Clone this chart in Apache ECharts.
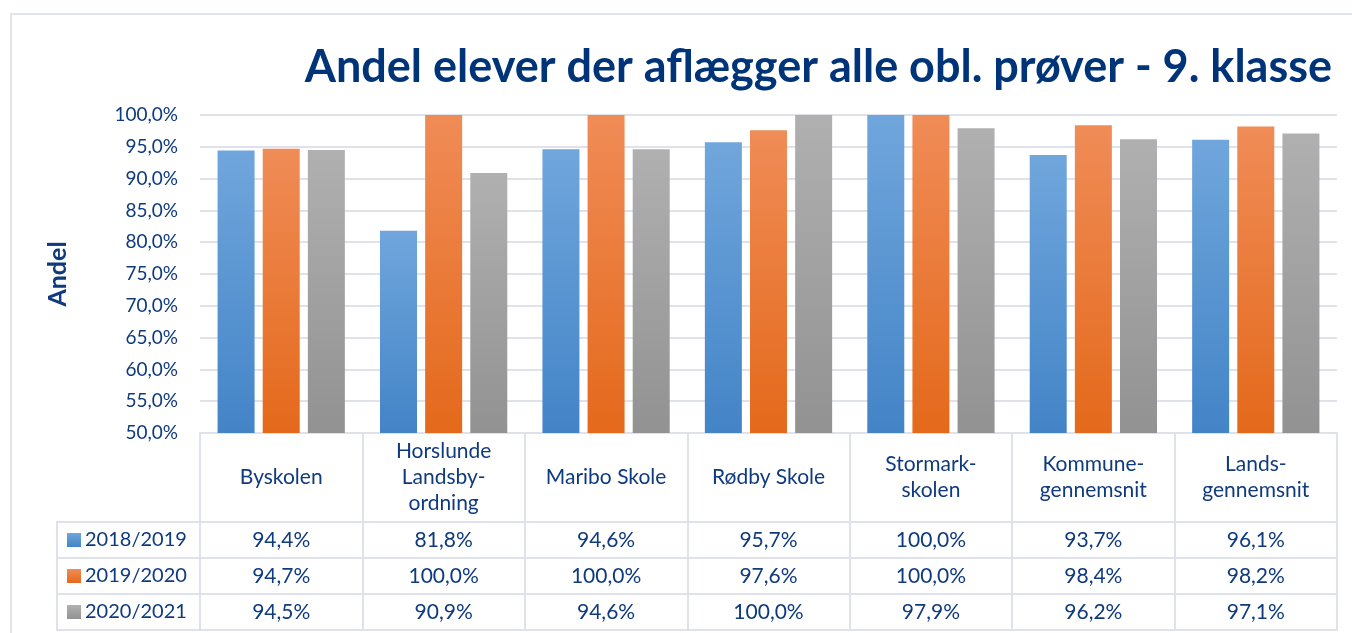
<!DOCTYPE html>
<html>
<head>
<meta charset="utf-8">
<script src="https://cdn.jsdelivr.net/npm/echarts@6/dist/echarts.min.js"></script>
<style>
  html, body { margin: 0; padding: 0; background: #fff; }
  #main { width: 1352px; height: 633px; }
</style>
</head>
<body>
<div id="main"></div>
<script>
var schools = ['Byskolen', 'Horslunde\nLandsby-\nordning', 'Maribo Skole', 'Rødby Skole',
    'Stormark-\nskolen', 'Kommune-\ngennemsnit', 'Lands-\ngennemsnit'];
var years = ['2018/2019', '2019/2020', '2020/2021'];
var y2019 = [94.4, 81.8, 94.6, 95.7, 100.0, 93.7, 96.1];
var y2020 = [94.7, 100.0, 100.0, 97.6, 100.0, 98.4, 98.2];
var y2021 = [94.5, 90.9, 94.6, 100.0, 97.9, 96.2, 97.1];

var navy = '#0f3a7e';
var lineCol = '#dfe2ea';
var font = 'Lato';

function pct(v) {
    return v.toFixed(1).replace('.', ',') + '%';
}
function grad(top, bottom) {
    return {
        type: 'linear', x: 0, y: 0, x2: 0, y2: 1,
        colorStops: [{offset: 0, color: top}, {offset: 1, color: bottom}]
    };
}

// one extra x axis per table row, labels are the row values
function rowAxis(offset, values) {
    return {
        type: 'category',
        data: schools,
        position: 'bottom',
        offset: offset,
        axisLine: {show: true, lineStyle: {color: lineCol, width: 2}},
        axisTick: {show: false},
        axisLabel: {
            show: !!values,
            interval: 0,
            margin: 18,
            verticalAlign: 'middle',
            fontFamily: font,
            fontSize: 21,
            color: navy,
            formatter: function (v, i) { return values ? pct(values[i]) : ''; }
        }
    };
}

var option = {
    animation: false,
    title: {
        text: 'Andel elever der aflægger alle obl. prøver - 9. klasse',
        right: 15,
        top: 40,
        textStyle: {fontFamily: font, fontWeight: 'bold', fontSize: 45, color: '#003478'}
    },
    legend: {
        data: years,
        orient: 'vertical',
        left: 67,
        top: 529,
        padding: 0,
        itemWidth: 14,
        itemHeight: 14,
        itemGap: 14,
        icon: 'rect',
        textStyle: {fontFamily: font, fontSize: 20, color: navy, lineHeight: 22, padding: [0, 0, 0, -1]},
        selectedMode: false
    },
    grid: {left: 200, right: 15, top: 115, bottom: 200, outerBoundsMode: 'none'},
    xAxis: [{
        type: 'category',
        data: schools,
        position: 'bottom',
        axisLine: {show: true, lineStyle: {color: lineCol, width: 2}},
        axisTick: {show: true, interval: 0, length: 197, lineStyle: {color: lineCol, width: 2}},
        axisLabel: {
            interval: 0,
            margin: 44,
            verticalAlign: 'middle',
            lineHeight: 26,
            fontFamily: font,
            fontSize: 21,
            color: navy
        }
    },
        rowAxis(89, y2019),
        rowAxis(125, y2020),
        rowAxis(161, y2021),
        rowAxis(197, null)
    ],
    yAxis: {
        type: 'value',
        min: 50,
        max: 100,
        interval: 5,
        name: 'Andel',
        nameLocation: 'middle',
        nameGap: 130,
        nameRotate: 90,
        nameTextStyle: {fontFamily: font, fontWeight: 'bold', fontSize: 25, color: navy},
        axisLine: {show: false},
        axisTick: {show: false},
        axisLabel: {
            margin: 22,
            fontFamily: font,
            fontSize: 19,
            color: navy,
            formatter: pct
        },
        splitLine: {lineStyle: {color: lineCol, width: 2}}
    },
    series: [{
        name: years[0],
        type: 'bar',
        barWidth: 37,
        barGap: '22%',
        itemStyle: {color: grad('#70a6dc', '#4384c7')},
        data: y2019
    }, {
        name: years[1],
        type: 'bar',
        barWidth: 37,
        barGap: '22%',
        itemStyle: {color: grad('#f08c57', '#e4691b')},
        data: y2020
    }, {
        name: years[2],
        type: 'bar',
        barWidth: 37,
        barGap: '22%',
        itemStyle: {color: grad('#b0b0b0', '#929292')},
        data: y2021
    }],
    graphic: [
        // outer chart border
        {type: 'rect', shape: {x: 11, y: 14, width: 1400, height: 700},
            style: {fill: 'none', stroke: '#e1e4ea', lineWidth: 2}},
        // legend column of the data table
        {type: 'polyline', shape: {points: [[200, 522], [57, 522], [57, 630], [200, 630]]},
            style: {fill: 'none', stroke: lineCol, lineWidth: 2}},
        {type: 'line', shape: {x1: 57, y1: 558, x2: 200, y2: 558},
            style: {stroke: lineCol, lineWidth: 2}},
        {type: 'line', shape: {x1: 57, y1: 594, x2: 200, y2: 594},
            style: {stroke: lineCol, lineWidth: 2}}
    ]
};

var myChart = echarts.init(document.getElementById('main'));
myChart.setOption(option);
</script>
</body>
</html>
